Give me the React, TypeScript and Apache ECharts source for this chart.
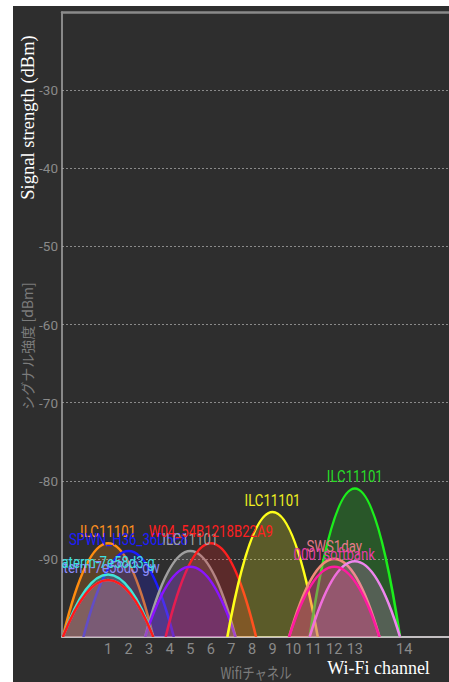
import React, { useEffect, useRef } from "react";
import * as echarts from "echarts";

// Networks, drawn back to front
const ssids = [
  "ILC11101",
  "SPWN_H36_36D5E8",
  "ILC11101",
  "W04_54B1218B22A9",
  "",
  "aterm-7e58d3-gw",
  "aterm-7e58d3-g",
  "",
  "ILC11101",
  "ILC11101",
  "SWS1day",
  "",
  "0001softbank",
];
const channels = [1, 2, 5, 6, 5, 1, 1, 1, 9, 13, 12, 13, 12];
const levels = [-88, -89, -89, -88, -91, -92.7, -92, -92.7, -84, -81, -90, -90.3, -91];
const lineColors = [
  "#ff8c10",
  "#1c1cff",
  "#a0a0a0",
  "#ff2020",
  "#8a14ff",
  "#8c8cff",
  "#40e6d8",
  "#ff1a1a",
  "#ffff1a",
  "#1cee1c",
  "#f08a78",
  "#ee86ee",
  "#ff1aa0",
];
const labelColors = [
  "#ff9020",
  "#1c1cff",
  "#a0a0a0",
  "#ff2020",
  "#8a14ff",
  "#8c8cff",
  "#40e0e0",
  "#ff1a1a",
  "#f0f020",
  "#28dd28",
  "#e47a8a",
  "#ee86ee",
  "#e83aa8",
];
const channelTicks = [1, 2, 3, 4, 5, 6, 7, 8, 9, 10, 11, 12, 13, 14];

const chFreq = (ch: number) => (ch === 14 ? 2484 : 2407 + 5 * ch);
const HALF_BW = 11; // MHz, half of a 22 MHz channel
const X_MIN = 2400.8;
const X_MAX = 2494.9;
const Y_MIN = -100;
const Y_MAX = -20;

function rgba(hex: string, a: number) {
  const n = parseInt(hex.slice(1), 16);
  return `rgba(${(n >> 16) & 255},${(n >> 8) & 255},${n & 255},${a})`;
}

export default function App() {
  const ref = useRef<HTMLDivElement>(null);
  useEffect(() => {
    const chart = echarts.init(ref.current!, null, { renderer: "svg" });
    const data = channels.map((ch, i) => [chFreq(ch), levels[i]]);

    const curveItem = (params: any, api: any) => {
      const i = params.dataIndex;
      const f = api.value(0) as number;
      const lv = api.value(1) as number;
      const p0 = api.coord([f - HALF_BW, Y_MIN]);
      const p1 = api.coord([f + HALF_BW, Y_MIN]);
      const c = api.coord([f, 2 * lv - Y_MIN]);
      const d = `M${p0[0]} ${p0[1]} Q${c[0]} ${c[1]} ${p1[0]} ${p1[1]}`;
      return {
        type: "group",
        children: [
          {
            type: "path",
            shape: { pathData: d + " Z" },
            style: { fill: rgba(lineColors[i], 0.22), stroke: "none" },
          },
          {
            type: "path",
            shape: { pathData: d },
            style: { fill: "none", stroke: lineColors[i], lineWidth: 2.6 },
          },
        ],
      };
    };

    const labelItem = (params: any, api: any) => {
      const i = params.dataIndex;
      if (!ssids[i]) return { type: "group", children: [] };
      const p = api.coord([api.value(0), api.value(1)]);
      return {
        type: "text",
        x: p[0],
        y: p[1] - 12,
        scaleX: 0.8,
        style: {
          text: ssids[i],
          fill: labelColors[i],
          fontSize: 16.5,
          fontFamily: "Roboto",
          align: "center",
          verticalAlign: "middle",
        },
      };
    };

    chart.setOption({
      animation: false,
      backgroundColor: "transparent",
      grid: { left: 62, top: 12, right: 0, bottom: 45, containLabel: false },
      xAxis: [
        {
          type: "value",
          min: X_MIN,
          max: X_MAX,
          axisLine: { onZero: false, lineStyle: { color: "#c4c0c2", width: 2 } },
          axisTick: { show: false },
          splitLine: { show: false },
          axisLabel: {
            customValues: channelTicks.map(chFreq),
            formatter: (v: number) => {
              const k = channelTicks.findIndex((ch) => chFreq(ch) === v);
              return k >= 0 ? String(channelTicks[k]) : "";
            },
            color: "#8a8a8a",
            fontSize: 14.5,
            fontFamily: "Roboto",
            margin: 5,
          },
        },
        {
          type: "value",
          position: "top",
          min: X_MIN,
          max: X_MAX,
          axisLine: { onZero: false, lineStyle: { color: "#8a8a8a", width: 2.5 } },
          axisTick: { show: false },
          axisLabel: { show: false },
          splitLine: { show: false },
        },
      ],
      yAxis: {
        type: "value",
        min: Y_MIN,
        max: Y_MAX,
        interval: 10,
        axisLine: { show: true, onZero: false, lineStyle: { color: "#a8a8a8", width: 1.5 } },
        axisTick: { show: false },
        axisLabel: {
          color: "#8a8a8a",
          fontSize: 13.5,
          fontFamily: "Roboto",
          margin: 4,
          showMinLabel: false,
          showMaxLabel: false,
        },
        splitLine: { lineStyle: { color: "#8a8a8a", type: [2, 2], width: 1 } },
      },
      graphic: [
        {
          type: "text",
          x: 28,
          y: 117.5,
          rotation: Math.PI / 2,
          style: {
            text: "Signal strength (dBm)",
            fill: "#ffffff",
            fontSize: 18.5,
            fontFamily: "Liberation Serif",
            align: "center",
            verticalAlign: "middle",
          },
        },
        {
          type: "text",
          x: 26.5,
          y: 346,
          rotation: Math.PI / 2,
          style: {
            text: "シグナル強度 [dBm]",
            fill: "#7c7c7c",
            fontSize: 14,
            fontFamily: "Noto Sans CJK JP",
            align: "center",
            verticalAlign: "middle",
          },
        },
        {
          type: "text",
          x: 256,
          y: 672,
          scaleX: 0.8,
          style: {
            text: "Wifiチャネル",
            fill: "#7c7c7c",
            fontSize: 15.5,
            fontFamily: "Noto Sans CJK JP",
            align: "center",
            verticalAlign: "middle",
          },
        },
        {
          type: "text",
          x: 378.5,
          y: 668,
          style: {
            text: "Wi-Fi channel",
            fill: "#ffffff",
            fontSize: 18,
            fontFamily: "Liberation Serif",
            align: "center",
            verticalAlign: "middle",
          },
        },
      ],
      series: [
        {
          type: "custom",
          xAxisIndex: 0,
          yAxisIndex: 0,
          renderItem: curveItem,
          data,
          clip: true,
          z: 2,
        },
        {
          type: "custom",
          xAxisIndex: 0,
          yAxisIndex: 0,
          renderItem: labelItem,
          data,
          clip: true,
          z: 3,
        },
      ],
    });
    return () => chart.dispose();
  }, []);

  return (
    <div style={{ position: "fixed", left: 0, top: 0, width: 449, height: 682, background: "#ffffff" }}>
      <div style={{ position: "absolute", left: 13, top: 6, width: 436, height: 676, background: "#2e2e2e" }} />
      <div ref={ref} style={{ position: "absolute", left: 0, top: 0, width: 449, height: 682 }} />
    </div>
  );
}
